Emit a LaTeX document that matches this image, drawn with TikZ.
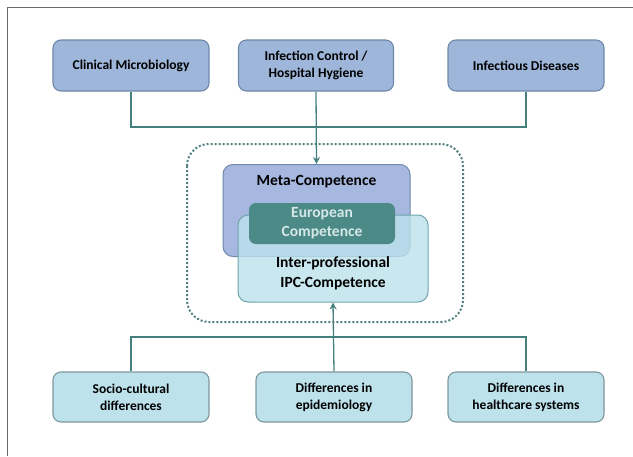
\documentclass[tikz,border=0pt]{standalone}
\usepackage{fontspec}
\setmainfont{Carlito}
\usepackage{xcolor}
\usepackage{tikz}
\usetikzlibrary{positioning, calc, arrows.meta}

\definecolor{topblue}{HTML}{9DB6DA}
\definecolor{topline}{HTML}{6E88A8}
\definecolor{metablue}{HTML}{A6B8E0}
\definecolor{ipccyan}{HTML}{BCE2EC}
\definecolor{ipcline}{HTML}{6FA3AE}
\definecolor{eurteal}{HTML}{4C8A87}
\definecolor{eurtext}{HTML}{D6E8E6}
\definecolor{botcyan}{HTML}{BDE2EC}
\definecolor{botline}{HTML}{7E979D}
\definecolor{linkteal}{HTML}{45807F}
\definecolor{framegray}{HTML}{6A6A6A}

\begin{document}
\begin{tikzpicture}[x=1pt, y=-1pt,
        font=\fontsize{13.5}{17}\selectfont\bfseries,
        topbox/.style={draw=topline, fill=topblue, line width=1.1pt, rounded corners=8pt,
            minimum width=156pt, minimum height=51pt, align=center},
        botbox/.style={draw=botline, fill=botcyan, line width=1.1pt, rounded corners=8pt,
            minimum width=156pt, minimum height=50pt, align=center},
        midtext/.style={font=\fontsize{15.5}{20}\selectfont\bfseries, align=center},
        link/.style={draw=linkteal, line width=1.3pt},
        linkarrow/.style={link, -{Stealth[length=7pt, width=7pt]}}]
    \useasboundingbox (0,0) rectangle (633,456);
    \fill[white] (0,0) rectangle (633,456);
    \draw[framegray, line width=0.9pt] (7,456) -- (7,7) -- (633,7);

    % disciplines
    \node[topbox] (clinmicro) at (131,65.5) {Clinical Microbiology};
    \node[topbox, minimum width=155pt] (infcontrol) at (316,65.5) {Infection Control /\\ Hospital Hygiene};
    \node[topbox] (infdis) at (526,65.5) {Infectious Diseases};

    % competences
    \draw[linkteal!80!gray, line width=2pt, dotted, rounded corners=22pt] (187,144) rectangle (463,322);
    \node[draw=topline, fill=metablue, line width=1pt, rounded corners=10pt,
        minimum width=187pt, minimum height=92pt, anchor=north] (meta) at (316.5,164) {};
    \node[midtext] (metalabel) at ($(meta.north)+(0,18)$) {Meta-Competence};
    \node[draw=ipcline, fill=ipccyan, fill opacity=0.8, line width=1pt, rounded corners=10pt,
        minimum width=190pt, minimum height=87pt] (ipc) at (333,258.5) {};
    \node[midtext] (ipclabel) at ($(ipc.south)+(0,-29)$) {Inter-professional\\ IPC-Competence};
    \node[midtext, fill=eurteal, rounded corners=7pt, text=eurtext,
        minimum width=146pt, minimum height=41pt, font=\fontsize{15.5}{19}\selectfont\bfseries] (european) at (322,223.5) {European\\ Competence};

    % influences
    \node[botbox] (sociocult) at (131,397) {Socio-cultural\\ differences};
    \node[botbox] (epidem) at (334,397) {Differences in\\ epidemiology};
    \node[botbox] (health) at (526,397) {Differences in\\ healthcare systems};

    \coordinate (topbus) at (0,127);
    \coordinate (botbus) at (0,337);
    \draw[link] (clinmicro.south) -- (clinmicro.south |- topbus) -| (infdis.south);
    \draw[linkarrow] (infcontrol.south) -- (meta.north);
    \draw[link] (sociocult.north) -- (sociocult.north |- botbus) -| (health.north);
    \draw[linkarrow] (epidem.north) -- (ipc.south);
\end{tikzpicture}
\end{document}
